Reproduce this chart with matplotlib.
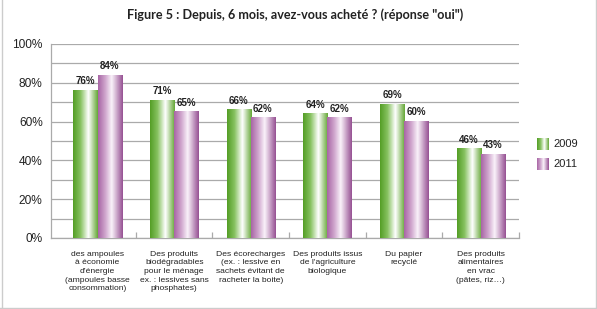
import numpy as np
import matplotlib.pyplot as plt
from matplotlib.colors import LinearSegmentedColormap
from matplotlib.lines import Line2D

categories = [
    "des ampoules\nà économie\nd’énergie\n(ampoules basse\nconsommation)",
    "Des produits\nbiodégradables\npour le ménage\nex. : lessives sans\nphosphates)",
    "Des écorecharges\n(ex. : lessive en\nsachets évitant de\nracheter la boite)",
    "Des produits issus\nde l'agriculture\nbiologique",
    "Du papier\nrecyclé",
    "Des produits\nalimentaires\nen vrac\n(pâtes, riz…)",
]
values_2009 = [76, 71, 66, 64, 69, 46]
values_2011 = [84, 65, 62, 62, 60, 43]
series_names = ["2009", "2011"]
yticks = [0, 20, 40, 60, 80, 100]

green_cmap = LinearSegmentedColormap.from_list("g", [
    (0.0, (0.33, 0.62, 0.15)), (0.3, (0.53, 0.76, 0.38)),
    (0.62, (1.0, 1.0, 1.0)), (1.0, (0.40, 0.66, 0.22))])
purple_cmap = LinearSegmentedColormap.from_list("p", [
    (0.0, (0.66, 0.40, 0.65)), (0.3, (0.82, 0.66, 0.81)),
    (0.55, (0.98, 0.95, 0.98)), (1.0, (0.59, 0.32, 0.58))])
grad = np.linspace(0, 1, 64).reshape(1, -1)

fig = plt.figure(figsize=(5.97, 3.09), dpi=100)
ax = fig.add_axes([51 / 597, 1 - 238 / 309, 468 / 597, 194 / 309])

x = np.arange(len(categories))
w = 0.314
b1 = ax.bar(x - w / 2, values_2009, w, color="none", zorder=3)
b2 = ax.bar(x + w / 2, values_2011, w, color="none", zorder=3)

for bars, cmap in [(b1, green_cmap), (b2, purple_cmap)]:
    for p in bars:
        x0, y0 = p.get_x(), p.get_y()
        ax.imshow(grad, cmap=cmap, aspect="auto", zorder=3,
                  extent=(x0, x0 + p.get_width(), y0, y0 + p.get_height()))
        ax.annotate(f"{p.get_height():.0f}%", (x0 + p.get_width() / 2, p.get_height()),
                    xytext=(0, 3), textcoords="offset points", ha="center", va="bottom",
                    fontsize=7, fontweight="bold", family="Liberation Sans", color="#222222")

# first category is a bit wider: the left spine sits left of the first boundary
ax.set_xlim(-0.607, len(categories) - 0.5)
ax.set_ylim(0, 100)
ax.set_yticks(yticks)
ax.set_yticklabels([f"{v}%" for v in yticks], family="Liberation Sans", fontsize=8.6, color="#222222")
ax.set_yticks(np.arange(0, 101, 10), minor=True)
ax.grid(True, axis="y", which="both", color="#aaaaaa", linewidth=0.9, zorder=0)
ax.tick_params(axis="y", which="both", length=0, pad=6)

ax.set_xticks(x)
ax.set_xticklabels(categories, family="Liberation Sans", fontsize=6.1, color="#222222", linespacing=1.34)
ax.tick_params(axis="x", which="major", length=0, pad=9)
ax.set_xticks(np.arange(0.5, len(categories), 1), minor=True)
ax.tick_params(axis="x", which="minor", direction="in", length=4, color="#aaaaaa", width=0.9)

for s in ["top", "right"]:
    ax.spines[s].set_visible(False)
for s in ["left", "bottom"]:
    ax.spines[s].set_color("#aaaaaa")
    ax.spines[s].set_linewidth(0.9)

fig.text(295 / 597, 1 - 15 / 309, "Figure 5 : Depuis, 6 mois, avez-vous acheté ? (réponse \"oui\")",
         ha="center", va="center", fontsize=9.1, fontweight="bold", family="Lato", color="#222222")

# legend
for i, (name, cmap) in enumerate(zip(series_names, [green_cmap, purple_cmap])):
    yc = 144 + 20 * i
    lax = fig.add_axes([537 / 597, 1 - (yc + 6) / 309, 12 / 597, 12 / 309])
    lax.imshow(grad, cmap=cmap, aspect="auto")
    lax.axis("off")
    fig.text(553 / 597, 1 - yc / 309, name, ha="left", va="center",
             fontsize=8, family="Liberation Sans", color="#222222")

# outer frame
frame_c = "#cccccc"
fig.add_artist(Line2D([1.5 / 597, 1.5 / 597], [0, 1], color=frame_c, lw=1))
fig.add_artist(Line2D([595.5 / 597, 595.5 / 597], [0, 1], color=frame_c, lw=1))
fig.add_artist(Line2D([0, 1], [1.5 / 309, 1.5 / 309], color=frame_c, lw=1))

fig.savefig("out.png", dpi=100)
